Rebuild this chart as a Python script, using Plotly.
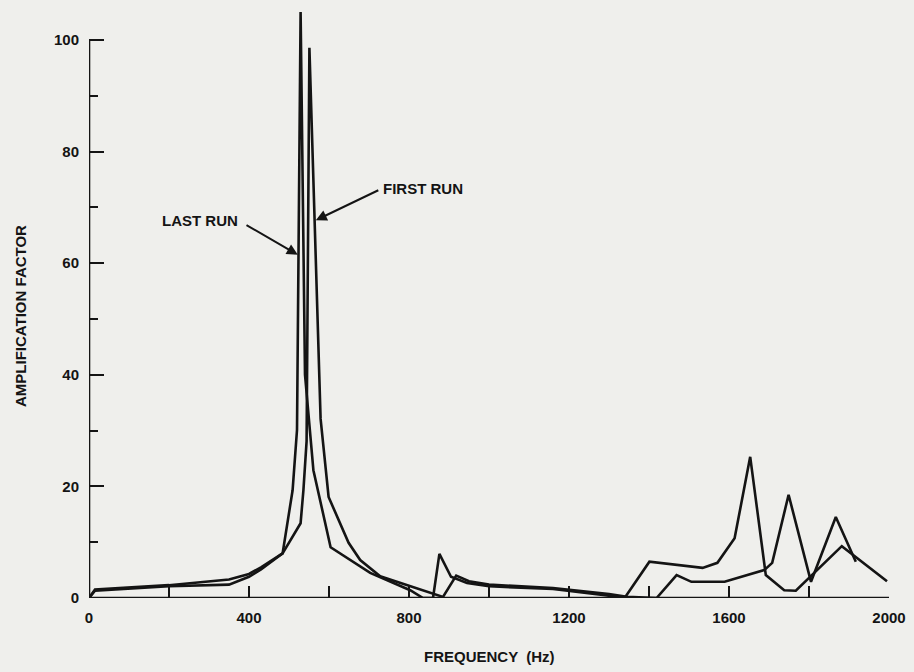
import plotly.graph_objects as go

# ---- data ----
last_hz = [0, 15, 200, 350, 400, 430, 484, 509, 520, 529, 540, 561, 604, 703, 803, 835, 860, 876,
           905, 945, 1000, 1160, 1290, 1339, 1401, 1534, 1571, 1614, 1653, 1692, 1738, 1767, 1882, 1995]
last_amp = [0, 1.5, 2.3, 3.3, 4.3, 5.5, 8.0, 19.3, 30.1, 105, 40, 22.9, 9.1, 4.5, 1.4, 0, 0, 7.9,
            3.8, 2.7, 2.1, 1.6, 0.5, 0, 6.5, 5.4, 6.3, 10.7, 25.3, 4.1, 1.4, 1.3, 9.3, 3.0]

first_hz = [0, 15, 200, 350, 400, 430, 484, 529, 536, 544, 551, 579, 599, 649, 678, 728, 885, 918,
            950, 1000, 1160, 1300, 1345, 1419, 1469, 1506, 1589, 1688, 1708, 1749, 1805, 1867, 1917]
first_amp = [0, 1.3, 2.1, 2.4, 3.8, 5.1, 8.0, 13.4, 19.3, 28.1, 98.6, 32.1, 18.1, 9.9, 6.8, 3.9, 0.2, 4.0,
             3.0, 2.4, 1.8, 0.7, 0.2, 0, 4.1, 2.9, 2.9, 5.0, 6.3, 18.5, 2.9, 14.5, 6.5]

x_ticks = [0, 400, 800, 1200, 1600, 2000]
y_ticks = [0, 20, 40, 60, 80, 100]

INK = "#141414"
BG = "#efefec"
FONT = "Liberation Sans"

W, H = 914, 672
L, R, T, B = 89, 25, 5, 74
PW, PH = W - L - R, H - T - B
Y_TOP = PH / 5.58


def paper_x(px):
    return (px - L) / PW


def paper_y(py):
    return (H - B - py) / PH


fig = go.Figure()
for hz, amp, name in [(first_hz, first_amp, "FIRST RUN"), (last_hz, last_amp, "LAST RUN")]:
    fig.add_trace(go.Scatter(x=hz, y=amp, mode="lines", name=name,
                             line=dict(color=INK, width=2.6), cliponaxis=False,
                             showlegend=False))

tickfont = dict(family=FONT, size=15, color=INK, weight="bold")

fig.update_layout(
    width=W, height=H,
    margin=dict(l=L, r=R, t=T, b=B, autoexpand=False),
    paper_bgcolor=BG, plot_bgcolor=BG,
    xaxis=dict(range=[0, 2000], tickvals=x_ticks, ticktext=[str(v) for v in x_ticks],
               ticks="inside", ticklen=12, tickwidth=2, tickcolor=INK,
               minor=dict(dtick=200, ticks="inside", ticklen=12, tickwidth=2, tickcolor=INK),
               showgrid=False, zeroline=False, showline=False,
               tickfont=tickfont, ticklabelstandoff=9),
    yaxis=dict(range=[0, Y_TOP], tickvals=y_ticks, ticktext=[str(v) for v in y_ticks],
               ticks="inside", ticklen=15, tickwidth=2, tickcolor=INK,
               minor=dict(tickvals=[10, 30, 50, 70, 90], ticks="inside", ticklen=9, tickwidth=2, tickcolor=INK),
               showgrid=False, zeroline=False, showline=False,
               tickfont=tickfont, ticklabelstandoff=9),
)

# axis lines
fig.add_shape(type="line", x0=0, x1=0, y0=0, y1=100, xref="x", yref="y",
              line=dict(color=INK, width=2.6))
fig.add_shape(type="line", x0=0, x1=2000, y0=0, y1=0, xref="x", yref="y",
              line=dict(color=INK, width=2.6))

labfont = dict(family=FONT, size=15, color=INK, weight="bold")

# axis titles
fig.add_annotation(text="AMPLIFICATION FACTOR", xref="paper", yref="paper",
                   x=paper_x(20), y=paper_y(316), xanchor="center", yanchor="middle",
                   textangle=-90, showarrow=False,
                   font=dict(family=FONT, size=15, color=INK, weight="bold"))
fig.add_annotation(text="FREQUENCY  (Hz)", xref="paper", yref="paper",
                   x=paper_x(489), y=paper_y(656), xanchor="center", yanchor="middle",
                   showarrow=False, font=labfont)

# curve labels
fig.add_annotation(text="LAST RUN", x=277, y=67.7, xref="x", yref="y", xanchor="center",
                   yanchor="middle", showarrow=False, font=labfont)
fig.add_annotation(text="FIRST RUN", x=835, y=73.4, xref="x", yref="y", xanchor="center",
                   yanchor="middle", showarrow=False, font=labfont)
fig.add_annotation(text="", x=522, y=61.5, ax=390, ay=67, xref="x", yref="y", axref="x", ayref="y",
                   showarrow=True, arrowhead=2, arrowsize=1.1, arrowwidth=2, arrowcolor=INK)
fig.add_annotation(text="", x=567, y=67.7, ax=727, ay=73.2, xref="x", yref="y", axref="x", ayref="y",
                   showarrow=True, arrowhead=2, arrowsize=1.1, arrowwidth=2, arrowcolor=INK)

fig.write_html("out.html", config={"displayModeBar": False},
               post_script="document.body.style.margin='0px';")
